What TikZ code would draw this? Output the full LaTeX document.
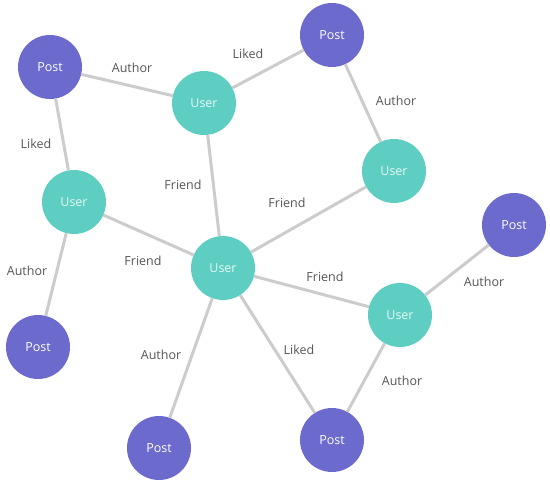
\documentclass[tikz,border=0pt]{standalone}
\usepackage{fontspec}
\setmainfont{Open Sans}
\definecolor{postc}{RGB}{108,106,204}
\definecolor{userc}{RGB}{94,206,194}
\definecolor{edgec}{RGB}{204,204,204}
\definecolor{labc}{RGB}{85,85,85}
\tikzset{
  vert/.style={circle, minimum size=64pt, inner sep=0pt, outer sep=0pt, font=\fontsize{12.5}{14}\selectfont},
  post/.style={vert, fill=postc, text=white},
  user/.style={vert, fill=userc, text=white!85!userc},
  rel/.style={draw=edgec, line width=3pt},
  lab/.style={text=labc, inner sep=0pt, font=\fontsize{12.5}{14}\selectfont}
}
\begin{document}
\begin{tikzpicture}[x=1pt,y=-1pt]
\useasboundingbox (0,0) rectangle (550,492);
\node[post] (p1) at (50,67) {Post};
\node[user] (u1) at (204,103) {User};
\node[post] (p2) at (332,35) {Post};
\node[user] (u2) at (394,171) {User};
\node[post] (p3) at (514,225) {Post};
\node[user] (u3) at (74,202) {User};
\node[user] (uc) at (223,268) {User};
\node[user] (u4) at (400,315) {User};
\node[post] (p4) at (38,347) {Post};
\node[post] (p5) at (159,448) {Post};
\node[post] (p6) at (332,440) {Post};
\draw[rel] (p1) -- (u1);
\draw[rel] (u1) -- (p2);
\draw[rel] (p2) -- (u2);
\draw[rel] (p1) -- (u3);
\draw[rel] (u1) -- (uc);
\draw[rel] (u2) -- (uc);
\draw[rel] (u3) -- (uc);
\draw[rel] (u3) -- (p4);
\draw[rel] (uc) -- (u4);
\draw[rel] (p3) -- (u4);
\draw[rel] (uc) -- (p5);
\draw[rel] (uc) -- (p6);
\draw[rel] (u4) -- (p6);
\node[lab] (l1) at (132,68) {Author};
\node[lab] (l2) at (248,54) {Liked};
\node[lab] (l3) at (396,101) {Author};
\node[lab] (l4) at (36,144) {Liked};
\node[lab] (l5) at (183,185) {Friend};
\node[lab] (l6) at (287,203) {Friend};
\node[lab] (l7) at (143,261) {Friend};
\node[lab] (l8) at (27,271) {Author};
\node[lab] (l9) at (325,277) {Friend};
\node[lab] (l10) at (484,282) {Author};
\node[lab] (l11) at (161,355) {Author};
\node[lab] (l12) at (299,350) {Liked};
\node[lab] (l13) at (402,381) {Author};
\end{tikzpicture}
\end{document}
